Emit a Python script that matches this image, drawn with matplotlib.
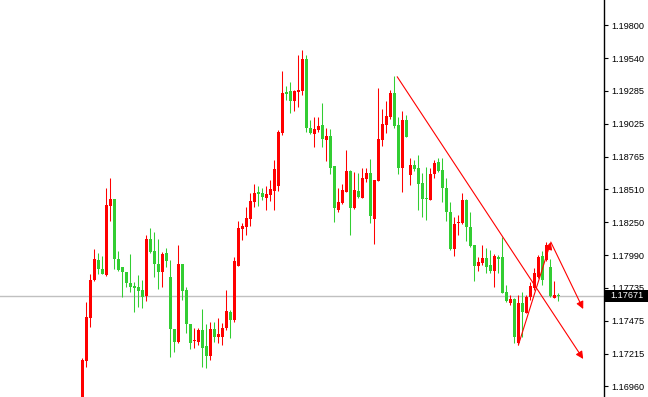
import numpy as np
import matplotlib
matplotlib.use("Agg")
import matplotlib.pyplot as plt
import matplotlib.transforms as mtransforms
from matplotlib.patches import Rectangle

# candle data, oldest first (red = up bar, green = down bar as in the terminal)
opens = [
    1.16820, 1.17161, 1.17500, 1.17796, 1.17954, 1.17883, 1.17836, 1.18381, 1.18434, 1.17962,
    1.17899, 1.17859, 1.17773, 1.17752, 1.17741, 1.17718, 1.17671, 1.18119, 1.18025, 1.17922,
    1.17857, 1.18007, 1.17818, 1.17411, 1.17311, 1.17922, 1.17718, 1.17448, 1.17314, 1.17311,
    1.17403, 1.17277, 1.17201, 1.17411, 1.17350, 1.17348, 1.17421, 1.17545, 1.17482, 1.17909,
    1.18198, 1.18216, 1.18276, 1.18413, 1.18489, 1.18481, 1.18444, 1.18465, 1.18499, 1.18539,
    1.18951, 1.19278, 1.19284, 1.19205, 1.19276, 1.19286, 1.19536, 1.18995, 1.18945, 1.18977,
    1.19016, 1.18901, 1.18930, 1.18694, 1.18347, 1.18400, 1.18491, 1.18654, 1.18361, 1.18497,
    1.18444, 1.18591, 1.18636, 1.18274, 1.18578, 1.18898, 1.19016, 1.19082, 1.19270, 1.19016,
    1.18680, 1.19056, 1.18623, 1.18701, 1.18680, 1.18562, 1.18444, 1.18426, 1.18631, 1.18723,
    1.18662, 1.18523, 1.18334, 1.18040, 1.18243, 1.18247, 1.18426, 1.18216, 1.18072, 1.17907,
    1.17933, 1.17972, 1.17914, 1.17870, 1.17980, 1.17980, 1.17704, 1.17618, 1.17644, 1.17303,
    1.17618, 1.17539, 1.17665, 1.17731, 1.17822, 1.17985, 1.17954, 1.17901, 1.17652, 1.17680,
]
highs = [
    1.17180, 1.17626, 1.17844, 1.18040, 1.18009, 1.17985, 1.18518, 1.18602, 1.18434, 1.18025,
    1.17899, 1.17859, 1.18001, 1.17778, 1.17836, 1.17796, 1.18151, 1.18203, 1.18172, 1.18119,
    1.18017, 1.18046, 1.17954, 1.17411, 1.18072, 1.17922, 1.17744, 1.17448, 1.17416, 1.17416,
    1.17568, 1.17448, 1.17463, 1.17463, 1.17500, 1.17458, 1.17718, 1.17560, 1.17980, 1.18261,
    1.18243, 1.18373, 1.18479, 1.18552, 1.18539, 1.18520, 1.18539, 1.18583, 1.18741, 1.18977,
    1.19441, 1.19326, 1.19357, 1.19292, 1.19567, 1.19607, 1.19567, 1.19056, 1.19077, 1.19077,
    1.19187, 1.18990, 1.18982, 1.18694, 1.18518, 1.18552, 1.18820, 1.18662, 1.18644, 1.18641,
    1.18675, 1.18680, 1.18746, 1.18583, 1.19305, 1.19142, 1.19207, 1.19292, 1.19402, 1.19082,
    1.19129, 1.19095, 1.18754, 1.18741, 1.18780, 1.18636, 1.18688, 1.18675, 1.18741, 1.18759,
    1.18754, 1.18597, 1.18413, 1.18290, 1.18308, 1.18479, 1.18431, 1.18334, 1.18072, 1.17980,
    1.18072, 1.18051, 1.18033, 1.17999, 1.17993, 1.18137, 1.17757, 1.17678, 1.17652, 1.17678,
    1.17704, 1.17678, 1.17783, 1.17888, 1.17993, 1.18027, 1.18098, 1.17962, 1.17789, 1.17692,
]
lows = [
    1.16780, 1.17109, 1.17429, 1.17791, 1.17841, 1.17841, 1.17828, 1.18263, 1.17883, 1.17870,
    1.17665, 1.17739, 1.17700, 1.17547, 1.17586, 1.17578, 1.17634, 1.18007, 1.17822, 1.17723,
    1.17744, 1.17901, 1.17193, 1.17232, 1.17303, 1.17639, 1.17377, 1.17251, 1.17259, 1.17285,
    1.17114, 1.17106, 1.17167, 1.17311, 1.17303, 1.17285, 1.17403, 1.17340, 1.17466, 1.17907,
    1.18111, 1.18151, 1.18224, 1.18369, 1.18381, 1.18426, 1.18347, 1.18420, 1.18347, 1.18499,
    1.18938, 1.19213, 1.19108, 1.19129, 1.19160, 1.19252, 1.18964, 1.18945, 1.18841, 1.18964,
    1.18841, 1.18735, 1.18628, 1.18255, 1.18334, 1.18395, 1.18487, 1.18151, 1.18355, 1.18439,
    1.18444, 1.18565, 1.18243, 1.18077, 1.18578, 1.18851, 1.18951, 1.19061, 1.18995, 1.18628,
    1.18491, 1.18919, 1.18544, 1.18654, 1.18347, 1.18295, 1.18269, 1.18426, 1.18597, 1.18649,
    1.18408, 1.18263, 1.18033, 1.17985, 1.18151, 1.18237, 1.18106, 1.18058, 1.17789, 1.17870,
    1.17914, 1.17849, 1.17849, 1.17744, 1.17849, 1.17692, 1.17626, 1.17600, 1.17298, 1.17285,
    1.17350, 1.17534, 1.17639, 1.17718, 1.17810, 1.17757, 1.17948, 1.17665, 1.17652, 1.17631,
]
closes = [
    1.17167, 1.17508, 1.17796, 1.17962, 1.17881, 1.17846, 1.18387, 1.18434, 1.17959, 1.17878,
    1.17862, 1.17775, 1.17744, 1.17736, 1.17712, 1.17665, 1.18117, 1.18014, 1.17920, 1.17857,
    1.18001, 1.17948, 1.17408, 1.17311, 1.17920, 1.17712, 1.17448, 1.17298, 1.17327, 1.17401,
    1.17264, 1.17198, 1.17411, 1.17350, 1.17371, 1.17419, 1.17552, 1.17482, 1.17946, 1.18203,
    1.18221, 1.18282, 1.18418, 1.18479, 1.18473, 1.18452, 1.18473, 1.18513, 1.18670, 1.18964,
    1.19270, 1.19258, 1.19205, 1.19284, 1.19292, 1.19536, 1.18995, 1.18956, 1.18985, 1.19008,
    1.18904, 1.18930, 1.18680, 1.18361, 1.18408, 1.18505, 1.18654, 1.18361, 1.18505, 1.18452,
    1.18601, 1.18636, 1.18302, 1.18583, 1.18906, 1.19024, 1.19087, 1.19270, 1.19008, 1.18680,
    1.19056, 1.18924, 1.18701, 1.18670, 1.18552, 1.18434, 1.18431, 1.18631, 1.18715, 1.18657,
    1.18518, 1.18334, 1.18038, 1.18237, 1.18255, 1.18426, 1.18216, 1.18066, 1.17907, 1.17940,
    1.17972, 1.17901, 1.17870, 1.17985, 1.17959, 1.17696, 1.17631, 1.17644, 1.17345, 1.17618,
    1.17547, 1.17665, 1.17749, 1.17849, 1.17980, 1.17796, 1.18072, 1.17671, 1.17678, 1.17671,
]

price_ticks = [1.19800, 1.19540, 1.19285, 1.19025, 1.18765, 1.18510, 1.18250,
               1.17990, 1.17735, 1.17475, 1.17215, 1.16960]
last_price = 1.17671

# drawn objects: (bar index, price) end points
trend_x = [78.7, 125.2]
trend_y = [1.19396, 1.17175]
leg_up_x = [109.0, 117.1]
leg_up_y = [1.17285, 1.18095]
leg_dn_x = [117.1, 125.2]
leg_dn_y = [1.18095, 1.17568]

up_col = "#ff0000"
dn_col = "#32cd32"

o = np.array(opens); h = np.array(highs); l = np.array(lows); c = np.array(closes)
x = np.arange(len(o))
cols = [up_col if cc >= oo else dn_col for oo, cc in zip(o, c)]

fig = plt.figure(figsize=(6.48, 3.97), dpi=100)
ax = fig.add_axes([0, 0, 604 / 648, 1])

ax.axhline(last_price, color="#c0c0c0", lw=1, zorder=1)

ax.vlines(x, l, h, colors=cols, lw=0.75, zorder=2)
body_lo = np.minimum(o, c)
body_h = np.maximum(np.abs(c - o), 0.00009)
ax.bar(x, body_h, bottom=body_lo, width=0.62, color=cols, linewidth=0, zorder=3)

for xs, ys in [(trend_x, trend_y), (leg_up_x, leg_up_y), (leg_dn_x, leg_dn_y)]:
    ax.annotate("", xy=(xs[1], ys[1]), xytext=(xs[0], ys[0]),
                arrowprops=dict(arrowstyle="-|>", color="red", lw=0.8,
                                mutation_scale=11, shrinkA=0, shrinkB=0),
                zorder=4)

ax.set_xlim(-20.6, 130.4)
ax.set_ylim(1.168756, 1.2)

for s in ["top", "bottom", "left"]:
    ax.spines[s].set_visible(False)
ax.spines["right"].set_color("black")
ax.spines["right"].set_linewidth(1)

ax.set_xticks([])
ax.yaxis.tick_right()
ax.set_yticks(price_ticks)
ax.set_yticklabels(["%.5f" % v for v in price_ticks])
ax.tick_params(axis="y", direction="out", length=3, width=0.8, pad=2.5,
               labelsize=6.6, colors="black")
for t in ax.get_yticklabels():
    t.set_family("Liberation Sans")

# current price tag on the scale
trans = mtransforms.blended_transform_factory(ax.transAxes, ax.transData)
tag_h = 0.00095
ax.add_patch(Rectangle((1.002, last_price - tag_h / 2), 0.08, tag_h, transform=trans,
                       facecolor="black", edgecolor="none", clip_on=False, zorder=10))
ax.text(1.038, last_price, "1.17671", transform=trans, ha="center", va="center",
        fontsize=6.6, family="Liberation Sans", color="white", zorder=11)

fig.savefig("out.png", dpi=100, facecolor="white")
